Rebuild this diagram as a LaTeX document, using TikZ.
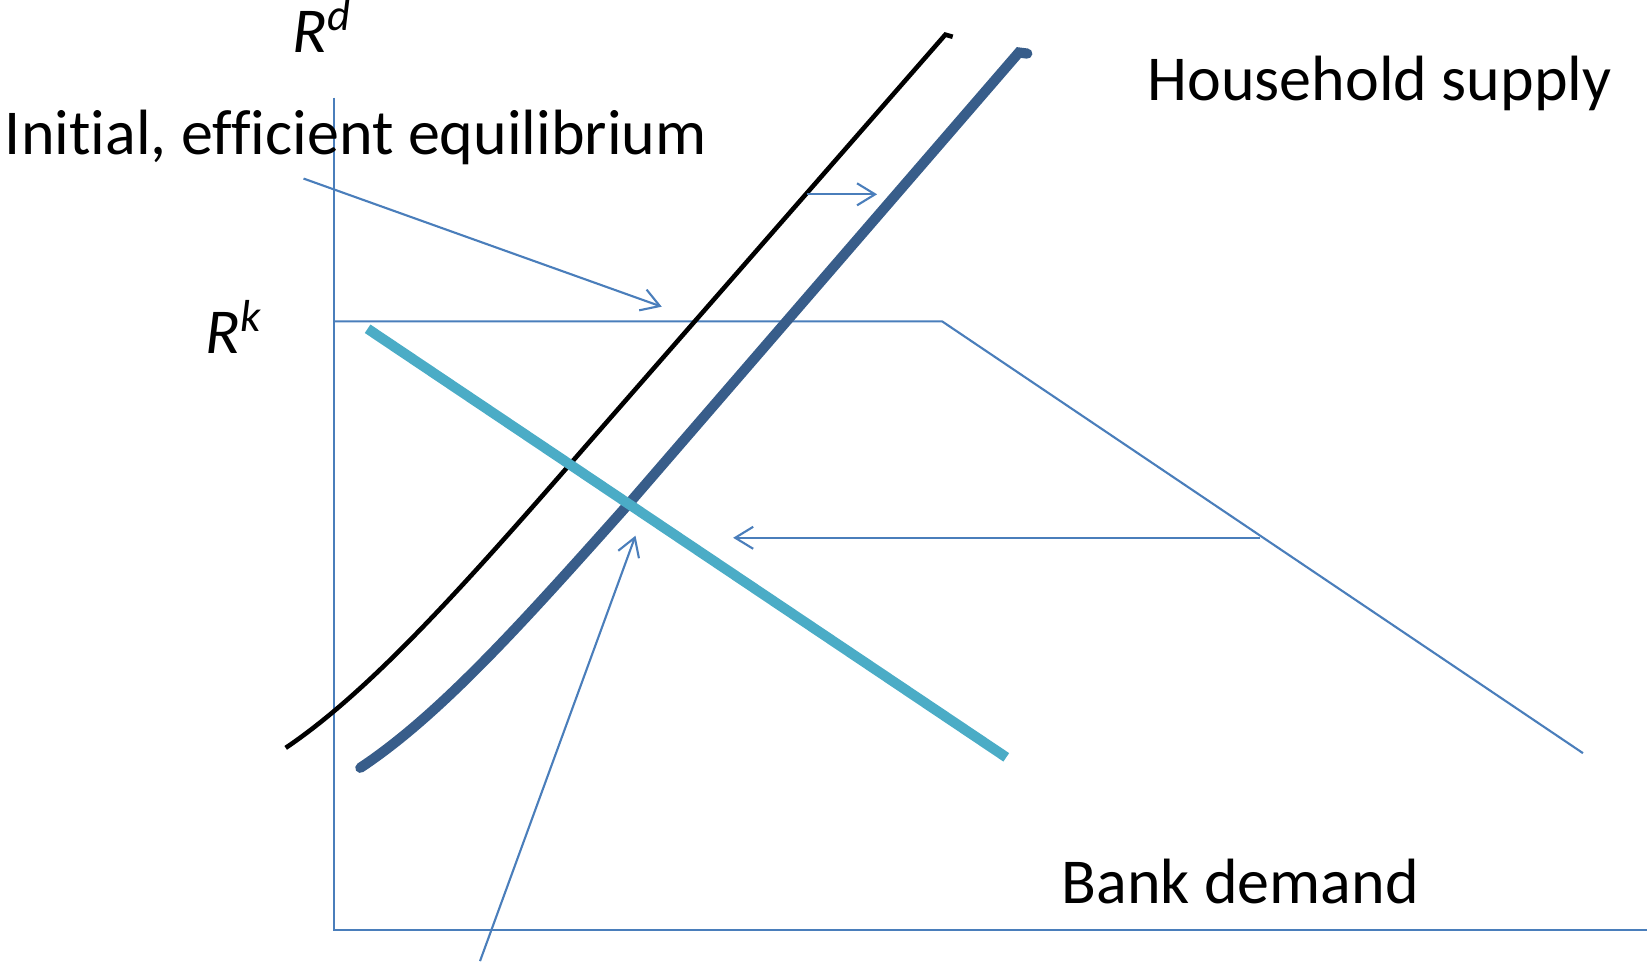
\documentclass[tikz,border=0pt]{standalone}
\usepackage{fontspec}
\setmainfont{Carlito}[RawFeature={-liga;-clig;-dlig;-calt;-rlig}]
\usepackage{tikz}
\usetikzlibrary{arrows.meta}
\usepackage{xcolor}
\definecolor{axisblue}{HTML}{4A7EBB}
\definecolor{supplyblue}{HTML}{385D8A}
\definecolor{demandcyan}{HTML}{4BACC6}
\tikzset{
  axisline/.style={draw=axisblue,line width=0.6pt},
  oldsupply/.style={draw=black,line width=1.3pt},
  newsupply/.style={draw=supplyblue,line width=2.9pt,line cap=round},
  demandline/.style={draw=demandcyan,line width=2.9pt},
  shiftarrow/.style={-{Straight Barb[length=1.8mm,width=2.2mm]},draw=axisblue,line width=0.6pt},
  lbl/.style={inner sep=0pt,anchor=base west,font=\fontsize{18.2}{22}\selectfont}
}
\begin{document}
\begin{tikzpicture}[x=0.0105cm,y=-0.0105cm]
  \useasboundingbox (0,0) rectangle (1568,915);
  \coordinate (origin) at (318,885);
  \coordinate (ytop) at (318,93);
  \coordinate (xend) at (1568,885);
  \coordinate (rk) at (318,306);
  \coordinate (kink) at (897,306);
  \coordinate (rkend) at (1507,717);
  \coordinate (dstart) at (350,313);
  \coordinate (dend) at (958,721);
  \coordinate (eqtail) at (289,170);
  \coordinate (eqhead) at (630,292);
  \coordinate (shtail) at (768,185);
  \coordinate (shhead) at (835,185);
  \coordinate (dmtail) at (1200,512);
  \coordinate (dmhead) at (698,512);
  \coordinate (nqtail) at (457,915);
  \coordinate (nqhead) at (605,510);
  \draw[axisline] (ytop) -- (origin) -- (xend);
  \draw[axisline] (rk) -- (kink) -- (rkend);
  \draw[oldsupply] (272,712) .. controls (352,658) and (440,560) .. (560,422) -- (900,33) -- (907,35);
  \draw[newsupply] (343,731) .. controls (420,680) and (500,590) .. (600,478) -- (970,50) -- (978,51);
  \draw[demandline] (dstart) -- (dend);
  \draw[shiftarrow] (eqtail) -- (eqhead);
  \draw[shiftarrow] (shtail) -- (shhead);
  \draw[shiftarrow] (dmtail) -- (dmhead);
  \draw[shiftarrow] (nqtail) -- (nqhead);
  \node[lbl] (rdlabel) at (278,50) {\textit{R}\textsuperscript{\textit{d}}};
  \node[lbl] (rklabel) at (195,337) {\textit{R}\textsuperscript{\textit{k}}};
  \node[lbl] (initlabel) at (4,147) {Initial, efficient equilibrium};
  \node[lbl] (hhlabel) at (1092,96) {Household supply};
  \node[lbl] (banklabel) at (1010,860) {Bank demand};
\end{tikzpicture}
\end{document}
